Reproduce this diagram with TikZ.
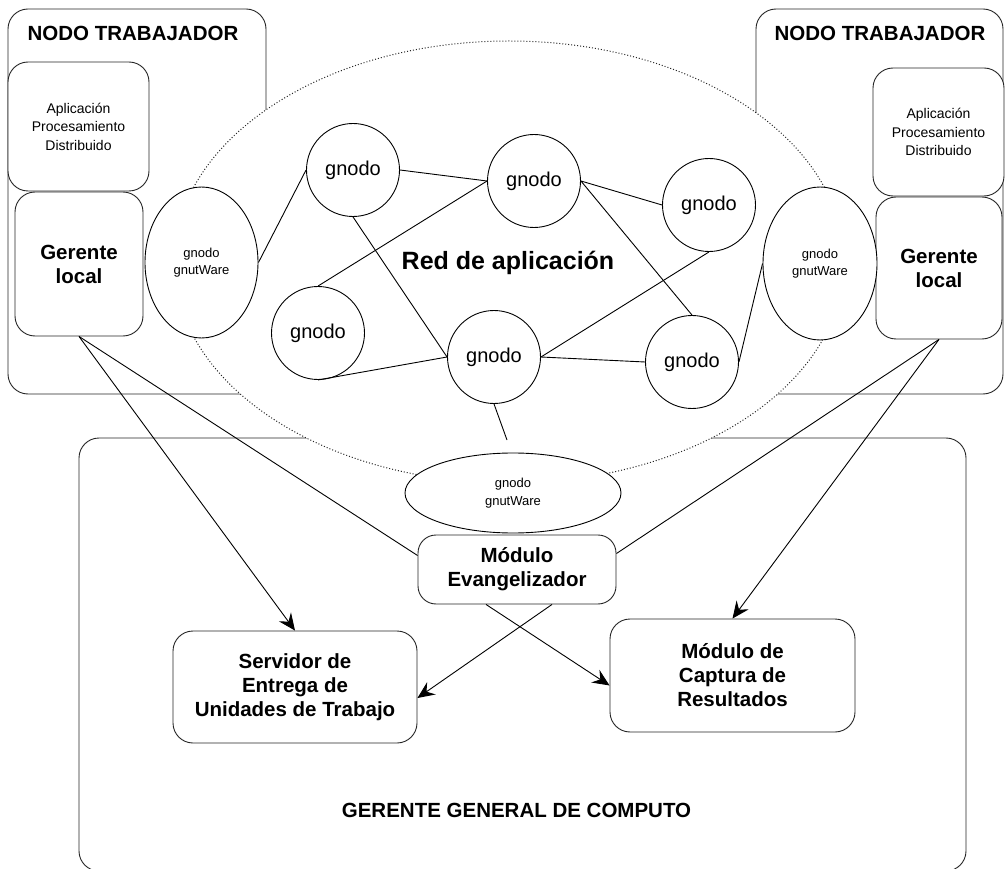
\documentclass[tikz,border=0pt]{standalone}
\usepackage{fontspec}
\setmainfont{Liberation Sans}
\usetikzlibrary{shapes.geometric,arrows.meta}
\begin{document}
\begin{tikzpicture}[x=1pt,y=-1pt,
  frame/.style={rectangle, draw=black!85, line width=0.9pt, rounded corners=20pt, inner sep=0pt},
  bx/.style={rectangle, draw=black!85, line width=0.9pt, rounded corners=20pt, fill=white, inner sep=0pt, align=center},
  bold/.style={font=\bfseries\fontsize{20.5}{24}\selectfont},
  ttl/.style={bold, align=center, inner sep=0pt},
  sm/.style={font=\fontsize{14}{18.5}\selectfont},
  gw/.style={ellipse, draw=black, line width=0.9pt, fill=white, inner sep=0pt, align=center, font=\fontsize{13}{17.5}\selectfont},
  gn/.style={circle, draw=black, line width=0.9pt, fill=white, inner sep=0pt, minimum size=93pt, font=\fontsize{20}{24}\selectfont},
  ln/.style={draw=black, line width=0.9pt},
  arr/.style={ln, -{Stealth[length=17pt,width=15pt,inset=6pt]}},
  net/.style={ellipse, draw=black!85, line width=1pt, dotted, fill=white, inner sep=0pt,
              minimum width=670pt, minimum height=442pt},
]
\useasboundingbox (0,0) rectangle (1005,869);

% outer containers
\node[frame, minimum width=258pt, minimum height=385pt] (wl) at (137,201.5) {};
\node[frame, minimum width=247pt, minimum height=385pt] (wr) at (879.5,201.5) {};
\node[frame, minimum width=887pt, minimum height=433pt] (gg) at (522.5,654.5) {};
\node[ttl] (twl) at (133,33) {NODO TRABAJADOR};
\node[ttl] (twr) at (880,33) {NODO TRABAJADOR};
\node[ttl] (tgg) at (516.5,810) {GERENTE GENERAL DE COMPUTO};

% application network region
\node[net] (red) at (509,262) {};
\node[font=\bfseries\fontsize{25}{30}\selectfont, inner sep=0pt] (redt) at (508,263) {Red de aplicación};

% worker node contents
\node[bx, sm, minimum width=141pt, minimum height=129pt] (al) at (78.5,126.5) {Aplicación\\Procesamiento\\Distribuido};
\node[bx, bold, minimum width=128pt, minimum height=144pt] (gl) at (79,264) {Gerente\\local};
\node[bx, sm, minimum width=131pt, minimum height=128pt] (ar) at (938.5,132) {Aplicación\\Procesamiento\\Distribuido};
\node[bx, bold, minimum width=126pt, minimum height=142pt] (gr) at (939,268) {Gerente\\local};

% gnutWare nodes
\node[gw, minimum width=113pt, minimum height=151pt] (wL) at (201.5,262.5) {gnodo\\gnutWare};
\node[gw, minimum width=114pt, minimum height=153pt] (wR) at (820,263.5) {gnodo\\gnutWare};
\node[gw, minimum width=216pt, minimum height=80pt] (wB) at (513,493) {gnodo\\gnutWare};

% gnodos
\node[gn] (g1) at (353,170) {gnodo};
\node[gn] (g2) at (534,181) {gnodo};
\node[gn] (g3) at (709,205) {gnodo};
\node[gn] (g4) at (318,333) {gnodo};
\node[gn] (g5) at (494,357) {gnodo};
\node[gn] (g6) at (692,362) {gnodo};
\coordinate (g5end) at (507,440);

% manager modules
\node[bx, bold, rounded corners=18pt, minimum width=198pt, minimum height=69pt] (ev) at (517,569.5) {Módulo\\Evangelizador};
\node[bx, bold, minimum width=244pt, minimum height=112pt] (sv) at (295,687) {Servidor de\\Entrega de\\Unidades de Trabajo};
\node[bx, bold, minimum width=245pt, minimum height=113pt] (cp) at (732.5,675.5) {Módulo de\\Captura de\\Resultados};

% network links
\draw[ln] (wL.east) -- (g1.west);
\draw[ln] (g1.east) -- (g2.west);
\draw[ln] (g2.west) -- (g4.north);
\draw[ln] (g1.south) -- (g5.west);
\draw[ln] (g2.east) -- (g3.west);
\draw[ln] (g2.east) -- (g6.north);
\draw[ln] (g3.south) -- (g5.east);
\draw[ln] (g5.east) -- (g6.west);
\draw[ln] (g4.south) -- (g5.west);
\draw[ln] (g6.east) -- (wR.west);
\draw[ln] (g5.south) -- (g5end);

% manager links
\draw[arr] (gl.south) -- (sv.north);
\draw[ln] (gl.south) -- ([yshift=14pt]ev.west);
\draw[arr] (gr.south) -- (cp.north);
\draw[ln] (gr.south) -- ([yshift=16pt]ev.east);
\draw[arr] ([xshift=35pt]ev.south) -- ([yshift=-11pt]sv.east);
\draw[arr] ([xshift=-31pt]ev.south) -- ([yshift=-10pt]cp.west);
\end{tikzpicture}
\end{document}
